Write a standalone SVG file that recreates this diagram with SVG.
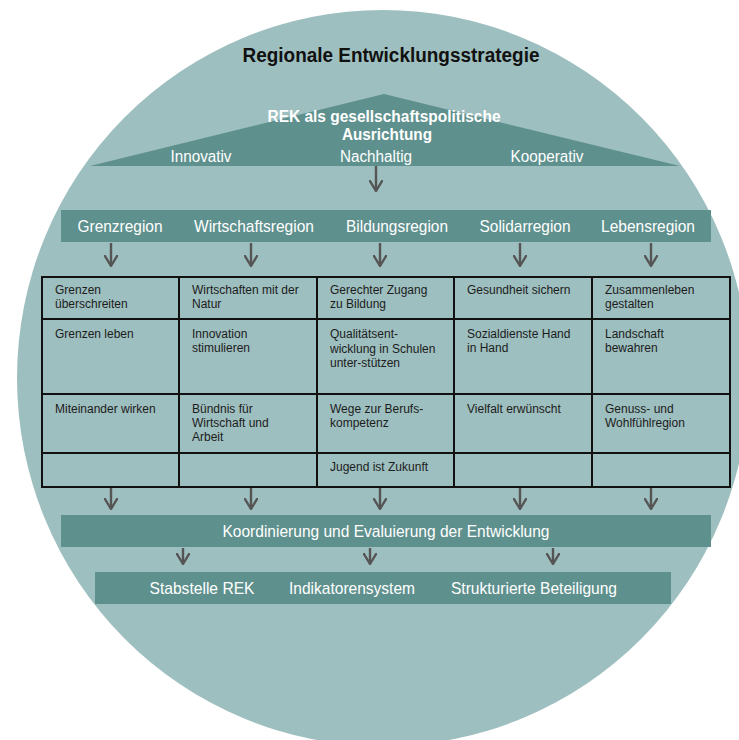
<svg xmlns="http://www.w3.org/2000/svg" width="739" height="740" viewBox="0 0 739 740">
  <defs>
    <marker id="chev" viewBox="0 0 12 14" refX="11" refY="7" markerWidth="12" markerHeight="14" markerUnits="userSpaceOnUse" orient="auto">
      <path d="M1,1 L11,7 L1,13" fill="none" stroke="#555" stroke-width="2.4" stroke-linecap="round" stroke-linejoin="round"/>
    </marker>
  </defs>
  <style>
    .bg { fill: #9ebfbf; }
    .band { fill: #5e908d; }
    .lbl { font-family: "Liberation Sans", Arial, sans-serif; fill: #ffffff; text-anchor: middle; }
    .band-lbl { font-size: 17px; }
    .roof-lbl { font-size: 16px; }
    .bold { font-weight: bold; }
    .title { font-family: "Liberation Sans", Arial, sans-serif; font-size: 20px; font-weight: bold; fill: #111; text-anchor: middle; }
    .cell { fill: none; stroke: #111; stroke-width: 2; }
    .ct { font-family: "Liberation Sans", Arial, sans-serif; font-size: 12px; fill: #1c1c1c; }
    .arrow { fill: none; stroke: #555; stroke-width: 2.4; marker-end: url(#chev); }
  </style>

  <!-- backdrop -->
  <ellipse class="bg" cx="383" cy="378" rx="366" ry="368"/>

  <!-- title -->
  <g id="title">
    <text class="title" x="391" y="62" textLength="297" lengthAdjust="spacingAndGlyphs">Regionale Entwicklungsstrategie</text>
  </g>

  <!-- roof -->
  <g id="roof">
    <polygon class="band" points="384,94 680,166 90,166"/>
    <text class="lbl roof-lbl bold" x="384" y="122" textLength="233" lengthAdjust="spacingAndGlyphs">REK als gesellschaftspolitische</text>
    <text class="lbl roof-lbl bold" x="387" y="140" textLength="90" lengthAdjust="spacingAndGlyphs">Ausrichtung</text>
    <text class="lbl roof-lbl" x="201" y="162" textLength="61" lengthAdjust="spacingAndGlyphs">Innovativ</text>
    <text class="lbl roof-lbl" x="376" y="162" textLength="72" lengthAdjust="spacingAndGlyphs">Nachhaltig</text>
    <text class="lbl roof-lbl" x="547" y="162" textLength="73" lengthAdjust="spacingAndGlyphs">Kooperativ</text>
  </g>

  <!-- regions bar -->
  <g id="regions">
    <rect class="band" x="61" y="210" width="650" height="32"/>
    <text class="lbl band-lbl" x="120" y="232" textLength="85" lengthAdjust="spacingAndGlyphs">Grenzregion</text>
    <text class="lbl band-lbl" x="254" y="232" textLength="120" lengthAdjust="spacingAndGlyphs">Wirtschaftsregion</text>
    <text class="lbl band-lbl" x="397" y="232" textLength="102" lengthAdjust="spacingAndGlyphs">Bildungsregion</text>
    <text class="lbl band-lbl" x="525" y="232" textLength="91" lengthAdjust="spacingAndGlyphs">Solidarregion</text>
    <text class="lbl band-lbl" x="648" y="232" textLength="94" lengthAdjust="spacingAndGlyphs">Lebensregion</text>
  </g>

  <!-- measures table -->
  <g id="table">
    <rect class="cell" x="42" y="277" width="688" height="210"/>
    <path class="cell" d="M179,277 V487 M317,277 V487 M454,277 V487 M592,277 V487 M42,319 H730 M42,394 H730 M42,453 H730"/>
    <g class="ct">
      <text x="55" y="294">Grenzen</text>
      <text x="55" y="308">überschreiten</text>
      <text x="192" y="294">Wirtschaften mit der</text>
      <text x="192" y="308">Natur</text>
      <text x="330" y="294">Gerechter Zugang</text>
      <text x="330" y="308">zu Bildung</text>
      <text x="467" y="294">Gesundheit sichern</text>
      <text x="605" y="294">Zusammenleben</text>
      <text x="605" y="308">gestalten</text>

      <text x="55" y="338">Grenzen leben</text>
      <text x="192" y="338">Innovation</text>
      <text x="192" y="352">stimulieren</text>
      <text x="330" y="338">Qualitätsent-</text>
      <text x="330" y="353">wicklung in Schulen</text>
      <text x="330" y="367">unter-stützen</text>
      <text x="467" y="338">Sozialdienste Hand</text>
      <text x="467" y="352">in Hand</text>
      <text x="605" y="338">Landschaft</text>
      <text x="605" y="352">bewahren</text>

      <text x="55" y="413">Miteinander wirken</text>
      <text x="192" y="413">Bündnis für</text>
      <text x="192" y="427">Wirtschaft und</text>
      <text x="192" y="441">Arbeit</text>
      <text x="330" y="413">Wege zur Berufs-</text>
      <text x="330" y="427">kompetenz</text>
      <text x="467" y="413">Vielfalt erwünscht</text>
      <text x="605" y="413">Genuss- und</text>
      <text x="605" y="427">Wohlfühlregion</text>

      <text x="330" y="471">Jugend ist Zukunft</text>
    </g>
  </g>

  <!-- coordination bar -->
  <g id="coordination">
    <rect class="band" x="61" y="515" width="650" height="32"/>
    <text class="lbl band-lbl" x="386" y="537" textLength="327" lengthAdjust="spacingAndGlyphs">Koordinierung und Evaluierung der Entwicklung</text>
  </g>

  <!-- instruments bar -->
  <g id="instruments">
    <rect class="band" x="95" y="572" width="576" height="32"/>
    <text class="lbl band-lbl" x="202" y="594" textLength="105" lengthAdjust="spacingAndGlyphs">Stabstelle REK</text>
    <text class="lbl band-lbl" x="352" y="594" textLength="126" lengthAdjust="spacingAndGlyphs">Indikatorensystem</text>
    <text class="lbl band-lbl" x="534" y="594" textLength="166" lengthAdjust="spacingAndGlyphs">Strukturierte Beteiligung</text>
  </g>

  <!-- connectors -->
  <g id="connectors">
    <path class="arrow" d="M376,166 V191"/>

    <path class="arrow" d="M111,243 V266"/>
    <path class="arrow" d="M251,243 V266"/>
    <path class="arrow" d="M380,243 V266"/>
    <path class="arrow" d="M520,243 V266"/>
    <path class="arrow" d="M651,243 V266"/>

    <path class="arrow" d="M111,488 V509"/>
    <path class="arrow" d="M251,488 V509"/>
    <path class="arrow" d="M380,488 V509"/>
    <path class="arrow" d="M520,488 V509"/>
    <path class="arrow" d="M651,488 V509"/>

    <path class="arrow" d="M183,548 V564"/>
    <path class="arrow" d="M370,548 V564"/>
    <path class="arrow" d="M553,548 V564"/>
  </g>
</svg>
